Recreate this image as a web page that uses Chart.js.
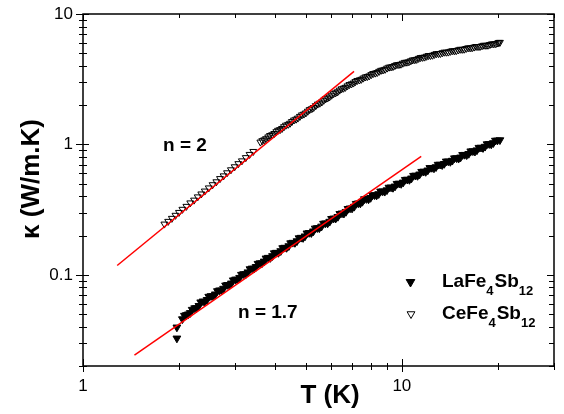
<!DOCTYPE html>
<html>
<head>
<meta charset="utf-8">
<script src="https://cdn.jsdelivr.net/npm/chart.js@4/dist/chart.umd.min.js"></script>
<style>
  html, body { margin: 0; padding: 0; background: #fff; }
  canvas { display: block; }
</style>
</head>
<body>
<canvas id="kappaChart" width="564" height="414"></canvas>
<script>
// thermal conductivity vs temperature, log-log

// LaFe4Sb12 (filled)
const laTemp = [1.97, 1.97,
  2.05, 2.11, 2.17, 2.24, 2.31, 2.38, 2.45, 2.52, 2.60, 2.68, 2.76, 2.84, 2.92, 3.01, 3.10, 3.19,
  3.29, 3.39, 3.49, 3.59, 3.70, 3.81, 3.93, 4.04, 4.17, 4.29, 4.42, 4.55, 4.69, 4.83, 4.97, 5.12,
  5.28, 5.43, 5.60, 5.76, 5.94, 6.11, 6.30, 6.49, 6.68, 6.88, 7.09, 7.30, 7.52, 7.74, 7.98, 8.21,
  8.46, 8.71, 8.98, 9.25, 9.52, 9.81, 10.10, 10.40, 10.72, 11.04, 11.37, 11.71, 12.06, 12.42, 12.80,
  13.18, 13.58, 13.98, 14.40, 14.84, 15.28, 15.74, 16.21, 16.70, 17.20, 17.71, 18.24, 18.79, 19.36,
  19.94, 20.3,
  2.08, 2.14, 2.20, 2.27, 2.34, 2.41, 2.48, 2.56, 2.64, 2.72, 2.80, 2.88, 2.96, 3.05, 3.14, 3.24,
  3.34, 3.44, 3.54, 3.64, 3.75, 3.87, 3.98, 4.10, 4.23, 4.35, 4.48, 4.62, 4.76, 4.90, 5.04, 5.20,
  5.35, 5.51, 5.68, 5.85, 6.02, 6.20, 6.39, 6.58, 6.78, 6.98, 7.19, 7.41, 7.63, 7.86, 8.09, 8.33,
  8.58, 8.84, 9.11, 9.38, 9.66, 9.95, 10.25, 10.56, 10.88, 11.20, 11.54, 11.88, 12.24, 12.61, 12.99,
  13.38, 13.78, 14.19, 14.62, 15.06, 15.51, 15.97, 16.45, 16.95, 17.45, 17.97, 18.51, 19.07, 19.65];
const laKappa = [0.0326, 0.0396,
  0.0458, 0.0493, 0.0511, 0.0556, 0.0579, 0.0627, 0.0644, 0.0689, 0.0710, 0.0762, 0.0785, 0.0839,
  0.0861, 0.0923, 0.0951, 0.1015, 0.1048, 0.1121, 0.1153, 0.1230, 0.1269, 0.1355, 0.1396, 0.1481,
  0.1524, 0.1619, 0.1663, 0.1767, 0.1816, 0.1930, 0.1978, 0.2101, 0.2160, 0.2287, 0.2352, 0.2489,
  0.2561, 0.2711, 0.2790, 0.2965, 0.3048, 0.3239, 0.3335, 0.3541, 0.3641, 0.3824, 0.3899, 0.4092,
  0.4170, 0.4378, 0.4464, 0.4690, 0.4773, 0.5024, 0.5121, 0.5387, 0.5501, 0.5785, 0.5901, 0.6207,
  0.6331, 0.6624, 0.6715, 0.7015, 0.7110, 0.7425, 0.7524, 0.7863, 0.7966, 0.8345, 0.8483, 0.8891,
  0.9040, 0.9470, 0.9627, 1.0092, 1.026, 1.074, 1.080,
  0.0487, 0.0499, 0.0541, 0.0558, 0.0617, 0.0623, 0.0681, 0.0688, 0.0752, 0.0761, 0.0831, 0.0834,
  0.0910, 0.0921, 0.1004, 0.1014, 0.1108, 0.1118, 0.1218, 0.1229, 0.1339, 0.1351, 0.1468, 0.1477,
  0.1606, 0.1613, 0.1751, 0.1762, 0.1913, 0.1921, 0.2084, 0.2096, 0.2271, 0.2283, 0.2472, 0.2484,
  0.2691, 0.2707, 0.2941, 0.2956, 0.3211, 0.3234, 0.3512, 0.3535, 0.3811, 0.3801, 0.4081, 0.4068,
  0.4366, 0.4351, 0.4674, 0.4656, 0.5000, 0.4991, 0.5364, 0.5360, 0.5760, 0.5753, 0.6180, 0.6170,
  0.6612, 0.6567, 0.7007, 0.6956, 0.7416, 0.7365, 0.7850, 0.7794, 0.8324, 0.8292, 0.8869, 0.8829,
  0.9445, 0.9406, 1.0062, 1.0027, 1.0715];

// CeFe4Sb12 (open)
const ceTemp = [
  1.80, 1.85, 1.90, 1.95, 2.00, 2.05, 2.11, 2.17, 2.23, 2.29, 2.35, 2.41, 2.48, 2.55, 2.62, 2.69,
  2.76, 2.83, 2.91, 2.99, 3.07, 3.15, 3.24, 3.33, 3.42,
  3.60, 3.70, 3.81, 3.92, 4.04, 4.15, 4.27, 4.40, 4.52, 4.66, 4.79, 4.93, 5.07, 5.22, 5.37, 5.53,
  5.69, 5.85, 6.02, 6.20, 6.38, 6.56, 6.75, 6.95, 7.15, 7.36, 7.57, 7.79, 8.02, 8.25, 8.49, 8.73,
  8.99, 9.25, 9.51, 9.79, 10.07, 10.37, 10.67, 10.98, 11.29, 11.62, 11.96, 12.30, 12.66, 13.03,
  13.40, 13.79, 14.19, 14.60, 15.03, 15.46, 15.91, 16.37, 16.85, 17.33, 17.84, 18.35, 18.89, 19.43,
  20.00, 20.3,
  3.65, 3.75, 3.86, 3.98, 4.09, 4.21, 4.33, 4.46, 4.59, 4.72, 4.86, 5.00, 5.14, 5.29, 5.45, 5.61,
  5.77, 5.93, 6.11, 6.29, 6.47, 6.65, 6.85, 7.05, 7.25, 7.46, 7.68, 7.90, 8.13, 8.37, 8.61, 8.86,
  9.12, 9.38, 9.65, 9.93, 10.22, 10.52, 10.82, 11.13, 11.45, 11.79, 12.13, 12.48, 12.84, 13.21,
  13.59, 13.99, 14.39, 14.81, 15.24, 15.68, 16.14, 16.61, 17.09, 17.58, 18.09, 18.62, 19.16, 19.71,
  20.15];
const ceKappa = [
  0.245, 0.257, 0.271, 0.286, 0.301, 0.318, 0.335, 0.356, 0.374, 0.396, 0.417, 0.439, 0.464, 0.491,
  0.517, 0.547, 0.574, 0.606, 0.639, 0.674, 0.712, 0.748, 0.792, 0.838, 0.883,
  1.042, 1.083, 1.141, 1.186, 1.252, 1.298, 1.367, 1.425, 1.497, 1.561, 1.640, 1.708, 1.797, 1.879,
  1.981, 2.070, 2.179, 2.268, 2.383, 2.486, 2.607, 2.696, 2.810, 2.909, 3.031, 3.118, 3.224, 3.312,
  3.428, 3.519, 3.633, 3.722, 3.846, 3.927, 4.021, 4.094, 4.192, 4.270, 4.375, 4.458, 4.566, 4.649,
  4.741, 4.806, 4.899, 4.968, 5.042, 5.093, 5.169, 5.220, 5.301, 5.355, 5.439, 5.496, 5.574, 5.623,
  5.700, 5.750, 5.833, 5.898, 5.99, 6.06,
  1.068, 1.106, 1.170, 1.212, 1.283, 1.325, 1.404, 1.453, 1.538, 1.591, 1.684, 1.743, 1.849, 1.919,
  2.037, 2.113, 2.236, 2.312, 2.448, 2.532, 2.667, 2.738, 2.877, 2.954, 3.092, 3.154, 3.287, 3.352,
  3.494, 3.557, 3.699, 3.764, 3.909, 3.953, 4.082, 4.121, 4.256, 4.299, 4.442, 4.488, 4.634, 4.670,
  4.801, 4.826, 4.962, 4.978, 5.097, 5.104, 5.225, 5.232, 5.360, 5.368, 5.499, 5.506, 5.631, 5.631,
  5.759, 5.760, 5.900, 5.912, 6.05];

// power-law guide lines, end points
const fitN2Temp = [1.28, 7.08];
const fitN2Kappa = [0.118, 3.63];
const fitN17Temp = [1.45, 11.5];
const fitN17Kappa = [0.0242, 0.81];

const xTicks = [1, 2, 3, 4, 5, 6, 7, 8, 9, 10, 20, 30];
const xLabels = [1, 10];
const yTicks = [0.02, 0.03, 0.04, 0.05, 0.06, 0.07, 0.08, 0.09, 0.1, 0.2, 0.3, 0.4, 0.5, 0.6, 0.7,
  0.8, 0.9, 1, 2, 3, 4, 5, 6, 7, 8, 9, 10];
const yLabels = [0.1, 1, 10];

const FONT = "'Liberation Sans', Arial, Helvetica, sans-serif";

const toPoints = (xs, ys) => xs.map((x, i) => ({ x: x, y: ys[i] }));

// draws a formula like LaFe4Sb12 with subscripted digits
function drawFormula(ctx, parts, x, y) {
  parts.forEach(([text, sub]) => {
    ctx.font = sub ? `bold 13px ${FONT}` : `bold 19px ${FONT}`;
    ctx.fillText(text, x, sub ? y + 8 : y);
    x += ctx.measureText(text).width + (sub ? 1 : 0);
  });
}

// keep the plot box fixed: no extra room for overhanging tick labels
function noScalePadding(s) {
  s.paddingTop = 0;
  s.paddingBottom = 0;
  s.paddingLeft = 0;
  s.paddingRight = 0;
}

const frameAndLabels = {
  id: 'frameAndLabels',
  afterDraw(chart) {
    const { ctx, chartArea: { left, right, top, bottom }, scales: { x, y } } = chart;
    ctx.save();
    ctx.strokeStyle = '#000';
    ctx.fillStyle = '#000';
    ctx.lineWidth = 1.5;
    ctx.strokeRect(left, top, right - left, bottom - top);

    ctx.lineWidth = 1;
    ctx.beginPath();
    xTicks.forEach(v => {
      const px = Math.round(x.getPixelForValue(v)) + 0.5;
      const major = xLabels.includes(v);
      ctx.moveTo(px, bottom - (major ? 7 : 3));
      ctx.lineTo(px, bottom + (major ? 6 : 4));
      ctx.moveTo(px, top);
      ctx.lineTo(px, top + (major ? 7 : 4));
    });
    yTicks.forEach(v => {
      const py = Math.round(y.getPixelForValue(v)) + 0.5;
      const major = yLabels.includes(v);
      ctx.moveTo(left - (major ? 7 : 4), py);
      ctx.lineTo(left + (major ? 6 : 4), py);
      ctx.moveTo(right, py);
      ctx.lineTo(right - (major ? 7 : 5), py);
    });
    ctx.stroke();

    // axis titles
    ctx.font = `bold 26px ${FONT}`;
    ctx.textAlign = 'center';
    ctx.textBaseline = 'alphabetic';
    ctx.fillText('T (K)', 330, 403);
    ctx.save();
    ctx.translate(39, 179);
    ctx.rotate(-Math.PI / 2);
    ctx.fillText('κ (W/m.K)', 0, 0);
    ctx.restore();

    // exponents
    ctx.textAlign = 'left';
    ctx.font = `bold 19px ${FONT}`;
    ctx.fillText('n = 2', 163, 151);
    ctx.fillText('n = 1.7', 238, 318);

    // legend
    ctx.lineWidth = 1;
    Chart.helpers.drawPoint(ctx, { pointStyle: 'triangle', radius: 5, rotation: 180, borderWidth: 1 }, 410.5, 282);
    ctx.fillStyle = '#fff';
    Chart.helpers.drawPoint(ctx, { pointStyle: 'triangle', radius: 4.5, rotation: 180, borderWidth: 1 }, 411, 314);
    ctx.fillStyle = '#000';
    drawFormula(ctx, [['LaFe', false], ['4', true], ['Sb', false], ['12', true]], 442, 287);
    drawFormula(ctx, [['CeFe', false], ['4', true], ['Sb', false], ['12', true]], 442, 319);
    ctx.restore();
  }
};

const tickFont = { family: FONT, size: 17 };

new Chart(document.getElementById('kappaChart'), {
  type: 'scatter',
  data: {
    datasets: [
      {
        type: 'line',
        data: toPoints(fitN2Temp, fitN2Kappa),
        borderColor: '#ff0000',
        borderWidth: 1.5,
        pointRadius: 0,
        order: 0
      },
      {
        type: 'line',
        data: toPoints(fitN17Temp, fitN17Kappa),
        borderColor: '#ff0000',
        borderWidth: 1.5,
        pointRadius: 0,
        order: 0
      },
      {
        label: 'LaFe4Sb12',
        data: toPoints(laTemp, laKappa),
        pointStyle: 'triangle',
        rotation: 180,
        pointRadius: 4.5,
        backgroundColor: '#000',
        borderColor: '#000',
        borderWidth: 1,
        order: 1
      },
      {
        label: 'CeFe4Sb12',
        data: toPoints(ceTemp, ceKappa),
        pointStyle: 'triangle',
        rotation: 180,
        pointRadius: 4,
        backgroundColor: 'rgba(0,0,0,0)',
        borderColor: '#000',
        borderWidth: 1,
        order: 1
      }
    ]
  },
  options: {
    responsive: false,
    animation: false,
    layout: { padding: { top: 14, right: 10, left: 0, bottom: 0 } },
    plugins: { legend: { display: false }, tooltip: { enabled: false } },
    scales: {
      x: {
        type: 'logarithmic',
        min: 1,
        max: 30,
        grid: { display: false, drawTicks: false, tickLength: 0 },
        border: { display: false },
        afterBuildTicks: s => { s.ticks = xTicks.map(v => ({ value: v })); },
        afterFit: s => { s.height = 48; noScalePadding(s); },
        ticks: {
          autoSkip: false,
          maxRotation: 0,
          padding: 10,
          color: '#000',
          font: tickFont,
          callback: v => xLabels.includes(v) ? String(v) : ''
        }
      },
      y: {
        type: 'logarithmic',
        min: 0.02,
        max: 10,
        grid: { display: false, drawTicks: false, tickLength: 0 },
        border: { display: false },
        afterBuildTicks: s => { s.ticks = yTicks.map(v => ({ value: v })); },
        afterFit: s => { s.width = 83; noScalePadding(s); },
        ticks: {
          autoSkip: false,
          padding: 10,
          color: '#000',
          font: tickFont,
          callback: v => yLabels.includes(v) ? String(v) : ''
        }
      }
    }
  },
  plugins: [frameAndLabels]
});
</script>
</body>
</html>
